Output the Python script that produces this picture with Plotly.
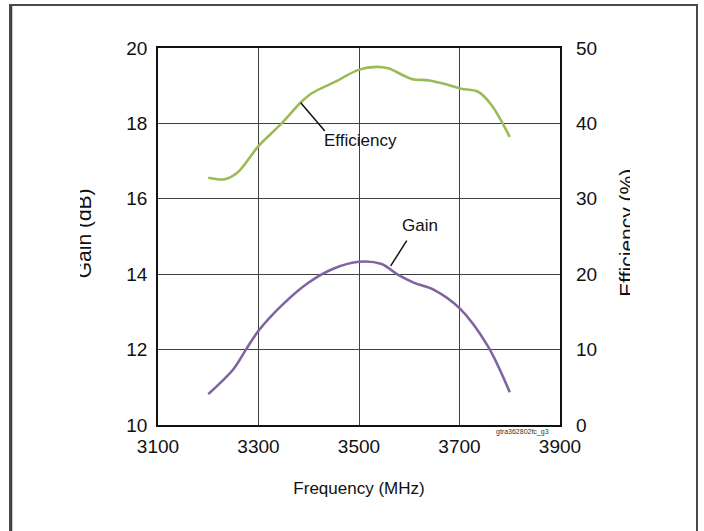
import plotly.graph_objects as go

# ---- data ----
gain_freq = [3200, 3250, 3275, 3300, 3350, 3400, 3450, 3500, 3545, 3578, 3610, 3650, 3700, 3757, 3800]
gain_db = [10.82, 11.48, 12.0, 12.5, 13.22, 13.78, 14.15, 14.33, 14.27, 13.98, 13.77, 13.58, 13.1, 12.08, 10.87]

eff_freq = [3200, 3233, 3260, 3300, 3343, 3386, 3406, 3452, 3499, 3535, 3558, 3605, 3640, 3678, 3704, 3737, 3764, 3800]
eff_pct = [32.8, 32.6, 33.6, 37.0, 39.8, 42.9, 44.0, 45.5, 47.1, 47.5, 47.3, 45.9, 45.7, 45.1, 44.6, 44.2, 42.4, 38.2]

x_ticks = [3100, 3300, 3500, 3700, 3900]
gain_ticks = [10, 12, 14, 16, 18, 20]
eff_ticks = [0, 10, 20, 30, 40, 50]

W, H = 704, 531
L, R, T, B = 158, 560, 48, 425


def px(xp):
    return (xp - L) / (R - L)


def py(yp):
    return (B - yp) / (B - T)


GREEN = "#9BBB59"
PURPLE = "#8064A2"
FONT = "Liberation Sans, Arial, sans-serif"

fig = go.Figure()
fig.add_trace(go.Scatter(x=gain_freq, y=gain_db, mode="lines", name="Gain",
                         line=dict(color=PURPLE, width=2.6, shape="spline", smoothing=0.9),
                         yaxis="y", showlegend=False))
fig.add_trace(go.Scatter(x=eff_freq, y=eff_pct, mode="lines", name="Efficiency",
                         line=dict(color=GREEN, width=2.6, shape="spline", smoothing=0.9),
                         yaxis="y2", showlegend=False))

grid = "#404040"
fig.update_layout(
    width=W, height=H,
    margin=dict(l=L, r=W - R, t=T, b=H - B),
    paper_bgcolor="white", plot_bgcolor="white",
    font=dict(family=FONT, color="#111111"),
    showlegend=False,
    xaxis=dict(range=[3100, 3900], tickvals=x_ticks, showgrid=True, gridcolor=grid, gridwidth=1,
               showline=True, linecolor="#111111", linewidth=1.5, mirror=True, zeroline=False,
               ticks="", tickfont=dict(size=19), ticklabelstandoff=3,
               title=dict(text="Frequency (MHz)", font=dict(size=17), standoff=27)),
    yaxis=dict(range=[10, 20], tickvals=gain_ticks, showgrid=True, gridcolor=grid, gridwidth=1,
               showline=True, linecolor="#111111", linewidth=1.5, mirror=True, zeroline=False,
               ticks="", tickfont=dict(size=19), ticklabelstandoff=5),
    yaxis2=dict(range=[0, 50], tickvals=eff_ticks, overlaying="y", side="right", showgrid=False,
                zeroline=False, showline=False, ticks="", tickfont=dict(size=19), ticklabelstandoff=15),
)

# leader lines
fig.add_shape(type="line", xref="x", yref="y2", x0=3384, y0=42.75, x1=3432, y1=39.0,
              line=dict(color="#111111", width=1.5))
fig.add_shape(type="line", xref="x", yref="y", x0=3563, y0=14.22, x1=3595, y1=14.89,
              line=dict(color="#111111", width=1.5))
# left edge of the outer frame
fig.add_shape(type="line", xref="paper", yref="paper", x0=px(11), x1=px(11), y0=py(6), y1=py(560),
              line=dict(color="#3a3a3a", width=2.5), layer="above")

C = dict(xanchor="center", yanchor="middle", showarrow=False)
ann = []
# outer frame (its bottom edge lies below the window)
ann.append(dict(text=" ", x=px(353.5), y=py(285), xref="paper", yref="paper",
                width=685, height=558, bgcolor="rgba(0,0,0,0)", bordercolor="#4a4a4a",
                borderwidth=2, borderpad=0, **C))
ann.append(dict(text="Efficiency", x=3503, y=37.7, xref="x", yref="y2",
                font=dict(size=17, family=FONT, color="#111111"), **C))
ann.append(dict(text="Gain", x=3622, y=15.28, xref="x", yref="y",
                font=dict(size=17, family=FONT, color="#111111"), **C))
ann.append(dict(text="gtra362802fc_g3", x=px(522), y=py(432), xref="paper", yref="paper",
                font=dict(size=7, family=FONT, color="#333333"), **C))
# axis titles (partially clipped in the reference)
ann.append(dict(text="Gain (dB)", x=px(83.3), y=py(233), xref="paper", yref="paper",
                textangle=-90, font=dict(size=21, family=FONT, color="#111111"), **C))
ann.append(dict(text="Efficiency (%)", x=px(625.7), y=py(233), xref="paper", yref="paper",
                textangle=-90, font=dict(size=21, family=FONT, color="#111111"), **C))
# white masks reproducing the clipping
ann.append(dict(text=" ", x=px(48), y=py(233), xref="paper", yref="paper",
                width=64, height=180, bgcolor="white", borderpad=0, borderwidth=0, **C))
ann.append(dict(text=" ", x=px(660), y=py(233), xref="paper", yref="paper",
                width=61, height=180, bgcolor="white", borderpad=0, borderwidth=0, **C))
fig.update_layout(annotations=ann)

fig.write_html("out.html", config={"displayModeBar": False},
               post_script="document.body.style.margin='0';document.body.style.overflow='hidden';")
